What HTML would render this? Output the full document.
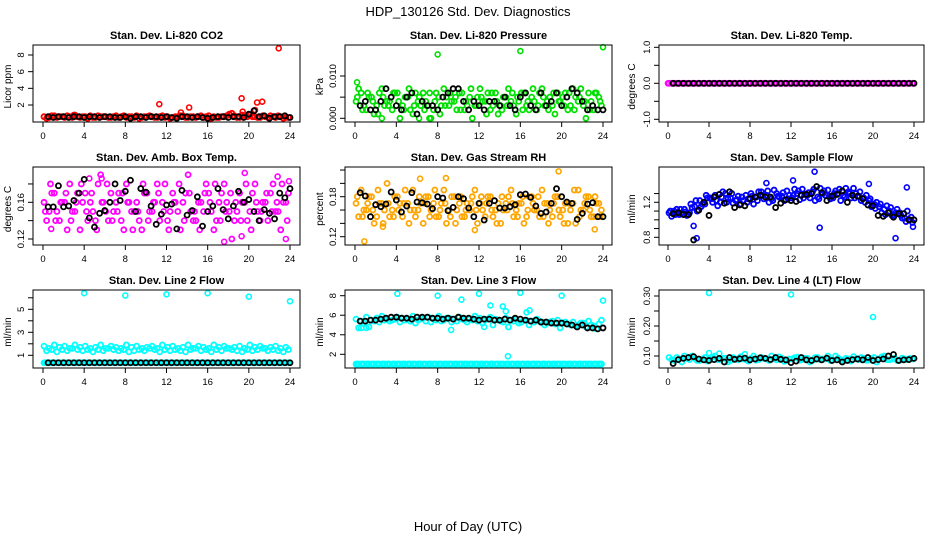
<!DOCTYPE html>
<html><head><meta charset="utf-8"><title>HDP_130126 Std. Dev. Diagnostics</title>
<style>
html,body{margin:0;padding:0;background:#fff;}
svg{display:block;font-family:"Liberation Sans",Arial,sans-serif;}
.tt{font-weight:bold;font-size:11px;}
.tk{font-size:9.5px;}
.yl{font-size:10px;}
</style></head>
<body>
<svg id="chart" width="936" height="540" viewBox="0 0 936 540" xmlns="http://www.w3.org/2000/svg">
<rect x="0" y="0" width="936" height="540" fill="#fff"/>
<text x="468" y="16" text-anchor="middle" font-size="13">HDP_130126  Std. Dev. Diagnostics</text>
<text x="468" y="531" text-anchor="middle" font-size="13">Hour of Day (UTC)</text>
<g id="panels"></g>
</svg>
<script>
// ---------- DATA ----------
const xTicks = [0,4,8,12,16,20,24];

const co2A = [0.6,0.5,0.7,0.6,0.5,0.6,0.8,0.5,0.6,0.7,0.5,0.6,0.6,0.5,0.7,0.6,0.5,0.6,0.7,0.5,0.6,0.6,0.5,0.7,0.6,0.5,0.6,0.7,0.5,0.6,0.6,0.5,0.7,0.6,0.5,0.6,0.9,0.7,0.5,0.6,0.8,0.6,0.5,0.6,0.7,0.5,0.6,0.5];
const co2B = [0.4,0.7,0.5,0.6,0.7,0.5,0.6,0.6,0.4,0.5,0.7,0.6,0.5,0.6,0.5,0.7,0.6,0.5,0.4,0.6,0.7,0.5,0.6,0.5,0.4,0.6,0.7,0.5,0.6,0.5,0.7,0.6,0.4,0.5,0.6,0.7,1.0,0.5,0.8,0.6,0.6,0.5,0.7,0.5,0.6,0.7,0.4,0.5];
const co2Black = [0.6,0.5,0.6,0.6,0.5,0.6,0.6,0.5,0.6,0.6,0.5,0.6,0.6,0.5,0.5,0.6,0.4,0.6,0.6,0.5,0.6,0.6,0.5,0.6,0.5,0.4,0.6,0.6,0.5,0.6,0.5,0.4,0.5,0.6,0.6,0.5,0.6,0.6,0.5,0.9,1.3,0.6,0.7,0.4,0.6,0.6,0.7,0.5];
const co2OutX = [3.0,11.3,13.4,14.2,19.3,19.4,20.6,20.8,21.3,22.9];
const co2OutY = [0.8,2.1,1.1,1.7,2.8,1.2,1.4,2.3,2.4,8.8];

const presA = [0.004,0.006,0.002,0.005,0.003,0.007,0.004,0.002,0.006,0.003,0.005,0.001,0.004,0.006,0.003,0.002,0.005,0.007,0.003,0.004,0.006,0.002,0.005,0.003,0.007,0.004,0.002,0.006,0.003,0.005,0.004,0.001,0.006,0.003,0.005,0.002,0.007,0.004,0.003,0.006,0.005,0.002,0.007,0.004,0.003,0.006,0.002,0.005];
const presB = [0.007,0.003,0.005,0.001,0.006,0.003,0.004,0.006,0.000,0.005,0.002,0.006,0.003,0.004,0.000,0.006,0.003,0.005,0.004,0.002,0.006,0.003,0.000,0.005,0.004,0.006,0.003,0.001,0.005,0.007,0.003,0.004,0.006,0.002,0.004,0.006,0.003,0.005,0.001,0.004,0.006,0.003,0.005,0.007,0.000,0.004,0.006,0.003];
const presC = [0.005,0.002,0.006,0.004,0.001,0.005,0.003,0.006,0.004,0.002,0.007,0.003,0.005,0.002,0.006,0.004,0.001,0.003,0.006,0.005,0.002,0.004,0.007,0.003,0.005,0.001,0.006,0.004,0.002,0.003,0.006,0.005,0.002,0.004,0.007,0.003,0.005,0.002,0.006,0.004,0.003,0.006,0.002,0.005,0.004,0.002,0.006,0.004];
const presBlack = [0.003,0.004,0.002,0.002,0.004,0.007,0.005,0.003,0.002,0.005,0.006,0.001,0.004,0.003,0.003,0.002,0.005,0.006,0.007,0.007,0.004,0.002,0.004,0.003,0.002,0.004,0.004,0.003,0.005,0.003,0.002,0.005,0.006,0.003,0.002,0.006,0.003,0.004,0.006,0.003,0.005,0.007,0.006,0.004,0.002,0.003,0.002,0.002];
const presOutX = [8.0,16.0,24.0,0.2,2.6,6.2,7.2];
const presOutY = [0.0151,0.0159,0.0168,0.0085,0.0,0.0,0.0];

const tempA = [0,0,0,0,0,0,0,0,0,0,0,0,0,0,0,0,0,0,0,0,0,0,0,0,0,0,0,0,0,0,0,0,0,0,0,0,0,0,0,0,0,0,0,0,0,0,0,0];
const tempB = [0,0,0,0,0,0,0,0,0,0,0,0,0,0,0,0,0,0,0,0,0,0,0,0,0,0,0,0,0,0,0,0,0,0,0,0,0,0,0,0,0,0,0,0,0,0,0,0];
const tempBlack = [0,0,0,0,0,0,0,0,0,0,0,0,0,0,0,0,0,0,0,0,0,0,0,0,0,0,0,0,0,0,0,0,0,0,0,0,0,0,0,0,0,0,0,0,0,0,0,0];
const tempOutX = [0.0];
const tempOutY = [0.0];

const ambA = [0.16,0.15,0.17,0.14,0.16,0.18,0.15,0.13,0.17,0.16,0.14,0.19,0.15,0.17,0.16,0.14,0.18,0.15,0.16,0.13,0.17,0.15,0.18,0.16,0.14,0.17,0.15,0.16,0.19,0.14,0.16,0.15,0.17,0.13,0.16,0.18,0.15,0.14,0.17,0.16,0.15,0.18,0.14,0.16,0.17,0.15,0.13,0.16];
const ambB = [0.14,0.17,0.15,0.16,0.13,0.15,0.17,0.16,0.14,0.15,0.18,0.16,0.14,0.15,0.17,0.13,0.16,0.15,0.14,0.17,0.15,0.16,0.14,0.18,0.15,0.16,0.13,0.17,0.15,0.14,0.16,0.18,0.15,0.14,0.17,0.16,0.12,0.15,0.16,0.14,0.17,0.15,0.16,0.14,0.18,0.15,0.16,0.17];
const ambC = [0.15,0.18,0.14,0.16,0.17,0.14,0.16,0.18,0.15,0.17,0.13,0.16,0.18,0.14,0.15,0.17,0.16,0.13,0.15,0.18,0.14,0.16,0.17,0.15,0.13,0.16,0.18,0.14,0.17,0.15,0.13,0.17,0.16,0.18,0.14,0.15,0.17,0.16,0.14,0.18,0.13,0.16,0.15,0.17,0.15,0.16,0.18,0.14];
const ambBlack = [0.155,0.155,0.178,0.155,0.156,0.162,0.170,0.185,0.143,0.133,0.148,0.151,0.160,0.180,0.162,0.172,0.184,0.150,0.175,0.171,0.156,0.136,0.147,0.157,0.158,0.131,0.173,0.146,0.151,0.166,0.134,0.150,0.156,0.175,0.152,0.142,0.156,0.172,0.160,0.163,0.150,0.140,0.152,0.148,0.142,0.170,0.165,0.175];
const ambOutX = [17.6,19.6,22.8,23.6,4.5,5.7,0.8,19.3,23.9];
const ambOutY = [0.117,0.192,0.188,0.120,0.186,0.186,0.131,0.123,0.183];

const rhA = [0.17,0.19,0.16,0.18,0.15,0.17,0.20,0.16,0.18,0.15,0.17,0.19,0.16,0.14,0.18,0.17,0.15,0.19,0.16,0.18,0.17,0.15,0.16,0.19,0.17,0.15,0.18,0.16,0.14,0.17,0.19,0.16,0.17,0.15,0.18,0.16,0.19,0.17,0.15,0.18,0.16,0.14,0.17,0.19,0.16,0.18,0.15,0.17];
const rhB = [0.15,0.16,0.18,0.14,0.17,0.16,0.15,0.18,0.17,0.19,0.16,0.15,0.17,0.18,0.16,0.15,0.17,0.14,0.18,0.16,0.15,0.17,0.18,0.14,0.16,0.18,0.15,0.17,0.16,0.18,0.15,0.17,0.14,0.18,0.16,0.15,0.17,0.16,0.18,0.15,0.17,0.16,0.14,0.16,0.18,0.15,0.17,0.16];
const rhC = [0.18,0.15,0.17,0.16,0.19,0.14,0.17,0.15,0.16,0.17,0.14,0.16,0.18,0.17,0.15,0.19,0.16,0.17,0.15,0.14,0.18,0.16,0.17,0.16,0.18,0.17,0.16,0.14,0.18,0.16,0.17,0.15,0.18,0.16,0.17,0.18,0.15,0.14,0.17,0.16,0.14,0.17,0.19,0.15,0.17,0.16,0.18,0.15];
const rhBlack = [0.186,0.181,0.150,0.168,0.165,0.169,0.187,0.175,0.157,0.166,0.186,0.172,0.171,0.169,0.162,0.180,0.178,0.159,0.164,0.180,0.177,0.163,0.150,0.170,0.145,0.170,0.174,0.163,0.163,0.165,0.168,0.183,0.184,0.179,0.166,0.155,0.157,0.170,0.192,0.180,0.172,0.170,0.146,0.155,0.169,0.171,0.150,0.150];
const rhOutX = [0.9,19.7,11.6,23.2,6.3,8.8,2.7];
const rhOutY = [0.113,0.218,0.130,0.131,0.207,0.208,0.135];

const flowA = [1.08,1.10,1.06,1.12,1.08,1.15,1.22,1.18,1.25,1.28,1.20,1.30,1.25,1.22,1.18,1.28,1.30,1.26,1.32,1.28,1.24,1.30,1.27,1.33,1.25,1.30,1.35,1.28,1.32,1.26,1.30,1.34,1.25,1.30,1.28,1.32,1.36,1.27,1.25,1.22,1.18,1.15,1.12,1.10,1.05,1.08,1.02,1.00];
const flowB = [1.04,1.12,1.08,1.05,1.14,1.10,1.18,1.25,1.20,1.16,1.32,1.24,1.19,1.27,1.22,1.24,1.18,1.32,1.24,1.20,1.34,1.26,1.22,1.28,1.35,1.23,1.29,1.25,1.22,1.36,1.28,1.24,1.33,1.22,1.36,1.25,1.30,1.22,1.28,1.15,1.20,1.08,1.16,1.05,1.12,1.02,1.10,0.97];
const flowC = [1.10,1.06,1.12,1.09,1.18,1.22,1.15,1.28,1.24,1.22,1.26,1.20,1.30,1.23,1.26,1.20,1.27,1.22,1.28,1.33,1.22,1.27,1.31,1.24,1.28,1.33,1.25,1.31,1.35,1.24,1.33,1.27,1.30,1.35,1.26,1.30,1.25,1.32,1.20,1.24,1.13,1.18,1.06,1.14,1.08,1.05,0.98,1.03];
const flowBlack = [1.07,1.08,1.06,1.06,0.77,1.11,1.20,1.05,1.26,1.29,1.19,1.32,1.14,1.17,1.16,1.24,1.26,1.28,1.26,1.26,1.14,1.19,1.23,1.22,1.21,1.28,1.29,1.30,1.38,1.31,1.22,1.27,1.29,1.33,1.20,1.28,1.27,1.24,1.17,1.16,1.05,1.04,1.08,1.03,1.07,1.07,1.00,1.00];
const flowOutX = [2.8,2.5,14.8,22.2,23.9,14.3,19.6,9.6,12.2,23.3];
const flowOutY = [0.79,0.93,0.91,0.79,0.92,1.55,1.41,1.42,1.45,1.37];

const line2A = [1.8,1.6,1.9,1.7,1.8,1.6,1.9,1.7,1.8,1.6,1.7,1.9,1.6,1.8,1.7,1.6,1.9,1.7,1.8,1.6,1.7,1.8,1.6,1.9,1.7,1.8,1.6,1.7,1.9,1.6,1.8,1.7,1.6,1.9,1.7,1.8,1.6,1.7,1.8,1.6,1.9,1.7,1.8,1.6,1.7,1.8,1.6,1.7];
const line2B = [1.4,1.5,1.3,1.5,1.4,1.6,1.5,1.4,1.5,1.3,1.5,1.4,1.6,1.5,1.4,1.5,1.3,1.4,1.5,1.4,1.6,1.5,1.3,1.5,1.4,1.5,1.4,1.3,1.5,1.6,1.4,1.5,1.3,1.5,1.4,1.6,1.5,1.4,1.3,1.5,1.4,1.5,1.6,1.4,1.5,1.4,1.3,1.5];
const line2Low = [0.35,0.35,0.35,0.35,0.35,0.35,0.35,0.35,0.35,0.35,0.35,0.35,0.35,0.35,0.35,0.35,0.35,0.35,0.35,0.35,0.35,0.35,0.35,0.35,0.35,0.35,0.35,0.35,0.35,0.35,0.35,0.35,0.35,0.35,0.35,0.35,0.35,0.35,0.35,0.35,0.35,0.35,0.35,0.35,0.35,0.35,0.35,0.35];
const line2Black = [0.35,0.35,0.35,0.35,0.35,0.35,0.35,0.35,0.35,0.35,0.35,0.35,0.35,0.35,0.35,0.35,0.35,0.35,0.35,0.35,0.35,0.35,0.35,0.35,0.35,0.35,0.35,0.35,0.35,0.35,0.35,0.35,0.35,0.35,0.35,0.35,0.35,0.35,0.35,0.35,0.35,0.35,0.35,0.35,0.35,0.35,0.35,0.35];
const line2OutX = [4,8,12,16,20,24];
const line2OutY = [6.4,6.2,6.3,6.4,6.1,5.7];

const line3A = [5.6,5.4,5.8,5.5,5.7,5.9,5.6,5.5,5.8,5.7,5.6,5.9,5.5,5.7,5.8,5.6,5.9,5.5,5.7,5.6,5.8,5.5,5.6,5.9,5.7,5.5,5.8,5.6,5.4,5.7,5.5,5.6,5.3,5.5,5.4,5.6,5.3,5.2,5.4,5.5,5.2,5.1,5.3,5.0,5.2,5.4,4.9,5.1];
const line3B = [4.7,5.2,4.8,5.4,5.3,5.5,5.4,5.6,5.3,5.5,5.4,5.2,5.6,5.4,5.3,5.5,5.4,5.7,5.3,5.4,5.6,5.3,5.5,5.4,5.2,5.6,5.0,5.5,5.3,4.8,5.4,5.2,5.5,5.0,5.3,5.4,5.0,5.3,5.1,4.7,5.3,5.0,4.9,5.2,4.8,5.0,4.6,5.5];
const line3Low = [1.0,1.0,1.0,1.0,1.0,1.0,1.0,1.0,1.0,1.0,1.0,1.0,1.0,1.0,1.0,1.0,1.0,1.0,1.0,1.0,1.0,1.0,1.0,1.0,1.0,1.0,1.0,1.0,1.0,1.0,1.0,1.0,1.0,1.0,1.0,1.0,1.0,1.0,1.0,1.0,1.0,1.0,1.0,1.0,1.0,1.0,1.0,1.0];
const line3Black = [5.4,5.4,5.5,5.5,5.6,5.7,5.8,5.8,5.7,5.7,5.6,5.8,5.8,5.8,5.7,5.7,5.6,5.7,5.6,5.8,5.7,5.7,5.6,5.5,5.6,5.6,5.5,5.5,5.6,5.5,5.7,5.6,5.5,5.4,5.5,5.3,5.3,5.2,5.2,5.2,5.1,5.0,4.8,5.0,4.7,4.7,4.6,4.7];
const line3OutX = [4.1,8.0,10.3,12.0,13.1,14.3,14.6,16.0,16.6,16.9,20.0,24.0,14.8,9.3,12.5,0.6,1.1];
const line3OutY = [8.2,8.0,7.6,8.2,7.0,6.9,6.4,8.3,6.3,6.5,8.0,7.5,1.8,4.5,4.8,4.7,4.7];

const line4A = [0.095,0.085,0.09,0.1,0.088,0.092,0.085,0.095,0.09,0.1,0.087,0.093,0.085,0.09,0.098,0.088,0.092,0.086,0.095,0.09,0.1,0.087,0.093,0.085,0.09,0.096,0.088,0.092,0.085,0.095,0.09,0.1,0.087,0.093,0.085,0.09,0.098,0.088,0.092,0.086,0.095,0.09,0.1,0.087,0.093,0.085,0.09,0.092];
const line4B = [0.088,0.095,0.08,0.092,0.1,0.085,0.09,0.083,0.097,0.088,0.092,0.08,0.095,0.087,0.09,0.083,0.1,0.088,0.092,0.085,0.09,0.097,0.082,0.09,0.094,0.086,0.092,0.08,0.095,0.088,0.09,0.085,0.1,0.088,0.092,0.083,0.09,0.095,0.086,0.092,0.08,0.097,0.088,0.09,0.085,0.093,0.088,0.09];
const line4Black = [0.075,0.088,0.092,0.095,0.098,0.09,0.087,0.085,0.088,0.092,0.08,0.095,0.089,0.091,0.093,0.087,0.09,0.094,0.092,0.088,0.095,0.089,0.087,0.078,0.083,0.095,0.087,0.085,0.09,0.087,0.093,0.085,0.087,0.08,0.085,0.088,0.09,0.087,0.095,0.085,0.088,0.09,0.1,0.105,0.085,0.087,0.088,0.092];
const line4OutX = [4,12,20,4,5,7.5];
const line4OutY = [0.31,0.305,0.23,0.11,0.108,0.106];

// hour positions of samples
const hoursA = [], hoursB = [], hoursC = [], hoursBlack = [];
for (let i = 0; i < 48; i++) { hoursA.push(0.1 + 0.5*i); hoursB.push(0.35 + 0.5*i); hoursC.push(0.225 + 0.5*i); hoursBlack.push(0.5 + 0.5*i); }
const seriesHours = [hoursA, hoursB, hoursC];

// ---------- LAYOUT ----------
const colX = [{l:33,r:300,x0:43,x24:290,yl:8},{l:345,r:612,x0:355,x24:603,yl:320},{l:659,r:924,x0:668,x24:914,yl:632}];
const rowY = [{t:45,b:122},{t:167,b:245},{t:290,b:368}];
const panels = [
 {name:'co2',title:'Stan. Dev. Li-820 CO2',ylab:'Licor ppm',c:0,r:0,color:'#ff0000',vLo:2,pLo:105,vHi:8,pHi:55,ticks:[2,4,6,8],labels:{2:'2',4:'4',6:'6',8:'8'},series:[co2A,co2B],low:null,black:co2Black,ox:co2OutX,oy:co2OutY},
 {name:'pressure',title:'Stan. Dev. Li-820 Pressure',ylab:'kPa',c:1,r:0,color:'#00e000',vLo:0,pLo:118.3,vHi:0.01,pHi:76,ticks:[0,0.005,0.01],labels:{0:'0.000',0.01:'0.010'},series:[presA,presB,presC],low:null,black:presBlack,ox:presOutX,oy:presOutY},
 {name:'temp',title:'Stan. Dev. Li-820 Temp.',ylab:'degrees C',c:2,r:0,color:'#ff00ff',vLo:-1,pLo:119.3,vHi:1,pHi:47.3,ticks:[-1,-0.5,0,0.5,1],labels:{'-1':'-1.0',0:'0.0',1:'1.0'},series:[tempA,tempB],low:null,black:tempBlack,ox:tempOutX,oy:tempOutY},
 {name:'amb-box-temp',title:'Stan. Dev. Amb. Box Temp.',ylab:'degrees C',c:0,r:1,color:'#ff00ff',vLo:0.12,pLo:239,vHi:0.16,pHi:202.3,ticks:[0.12,0.14,0.16,0.18],labels:{0.12:'0.12',0.16:'0.16'},series:[ambA,ambB,ambC],low:null,black:ambBlack,ox:ambOutX,oy:ambOutY},
 {name:'gas-stream-rh',title:'Stan. Dev. Gas Stream RH',ylab:'percent',c:1,r:1,color:'#ffa500',vLo:0.12,pLo:236.7,vHi:0.18,pHi:196.7,ticks:[0.12,0.14,0.16,0.18,0.2,0.22],labels:{0.12:'0.12',0.18:'0.18'},series:[rhA,rhB,rhC],low:null,black:rhBlack,ox:rhOutX,oy:rhOutY},
 {name:'sample-flow',title:'Stan. Dev. Sample Flow',ylab:'ml/min',c:2,r:1,color:'#0000ff',vLo:0.8,pLo:237.3,vHi:1.2,pHi:202.3,ticks:[0.8,0.9,1.0,1.1,1.2,1.3],labels:{0.8:'0.8',1.2:'1.2'},series:[flowA,flowB,flowC],low:null,black:flowBlack,ox:flowOutX,oy:flowOutY},
 {name:'line2-flow',title:'Stan. Dev. Line 2 Flow',ylab:'ml/min',c:0,r:2,color:'#00ffff',vLo:1,pLo:355.3,vHi:5,pHi:309.3,ticks:[1,2,3,4,5,6],labels:{1:'1',3:'3',5:'5'},series:[line2A,line2B],low:line2Low,black:line2Black,ox:line2OutX,oy:line2OutY},
 {name:'line3-flow',title:'Stan. Dev. Line 3 Flow',ylab:'ml/min',c:1,r:2,color:'#00ffff',vLo:2,pLo:354.3,vHi:8,pHi:295.7,ticks:[2,4,6,8],labels:{2:'2',4:'4',6:'6',8:'8'},series:[line3A,line3B],low:line3Low,black:line3Black,ox:line3OutX,oy:line3OutY},
 {name:'line4-flow',title:'Stan. Dev. Line 4 (LT) Flow',ylab:'ml/min',c:2,r:2,color:'#00ffff',vLo:0.1,pLo:356,vHi:0.3,pHi:296,ticks:[0.1,0.15,0.2,0.25,0.3],labels:{0.1:'0.10',0.2:'0.20',0.3:'0.30'},series:[line4A,line4B],low:null,black:line4Black,ox:line4OutX,oy:line4OutY}
];

const NS = 'http://www.w3.org/2000/svg';
const root = document.getElementById('panels');
function mk(tag, attrs, parent){ const e=document.createElementNS(NS,tag); for(const k in attrs) e.setAttribute(k,attrs[k]); parent.appendChild(e); return e; }

panels.forEach(p => {
  const C = colX[p.c], R = rowY[p.r];
  const xs = h => C.x0 + (C.x24 - C.x0) * h / 24;
  const ys = v => p.pLo + (v - p.vLo) * (p.pHi - p.pLo) / (p.vHi - p.vLo);
  const g = mk('g', {}, root);
  
  

  const t = mk('text', {x:(C.l+C.r)/2, y:R.t-6, 'text-anchor':'middle', class:'tt'}, g);
  t.textContent = p.title;
  
  

  const yl = mk('text', {x:C.yl, y:(R.t+R.b)/2, 'text-anchor':'middle', class:'yl', transform:'rotate(-90 '+(C.yl+3)+' '+((R.t+R.b)/2)+')'}, g);
  yl.textContent = p.ylab;
  
  

  const pts = mk('g', {fill:'none'}, g);
  
  
  const drawPt = (h, v, col, sw) => {
    const y = ys(v);
    const cy = Math.max(R.t+2, Math.min(R.b-2, y));
    const c = mk('circle', {cx:xs(h), cy:cy, r:2.5, stroke:col, 'stroke-width':sw}, pts);
    
    
  };
  p.series.forEach((s, si) => { const hs = seriesHours[si]; s.forEach((v,i) => drawPt(hs[i], v, p.color, 1.8)); });
  if (p.low) { p.low.forEach((v,i) => { drawPt(hoursA[i], v, p.color, 1.8); drawPt(hoursB[i], v, p.color, 1.8); drawPt(hoursC[i], v, p.color, 1.8); }); }
  p.ox.forEach((h,i) => drawPt(h, p.oy[i], p.color, 1.6));
  p.black.forEach((v,i) => drawPt(hoursBlack[i], v, '#000', 1.8));

  const box = mk('rect', {x:C.l, y:R.t, width:C.r-C.l, height:R.b-R.t, fill:'none', stroke:'#000', 'stroke-width':1}, g);
  
  

  const xa = mk('g', {stroke:'#000'}, g);
  
  
  mk('line', {x1:xs(xTicks[0]), x2:xs(xTicks[xTicks.length-1]), y1:R.b, y2:R.b}, xa);
  xTicks.forEach(h => {
    mk('line', {x1:xs(h), x2:xs(h), y1:R.b, y2:R.b+5}, xa);
    const tl = mk('text', {x:xs(h), y:R.b+17, 'text-anchor':'middle', class:'tk', stroke:'none', fill:'#000'}, xa);
    tl.textContent = String(h);
    
    
  });

  const ya = mk('g', {stroke:'#000'}, g);
  
  
  mk('line', {x1:C.l, x2:C.l, y1:ys(p.ticks[0]), y2:ys(p.ticks[p.ticks.length-1])}, ya);
  p.ticks.forEach(v => {
    const y = ys(v);
    mk('line', {x1:C.l-5, x2:C.l, y1:y, y2:y}, ya);
    const lab = p.labels[String(v)];
    if (lab !== undefined) {
      const lx = C.l - 9;
      const tl = mk('text', {x:lx, y:y, 'text-anchor':'middle', class:'tk', stroke:'none', fill:'#000', transform:'rotate(-90 '+lx+' '+y+')'}, ya);
      tl.textContent = lab;
      
      
    }
  });
});
</script>
</body></html>
